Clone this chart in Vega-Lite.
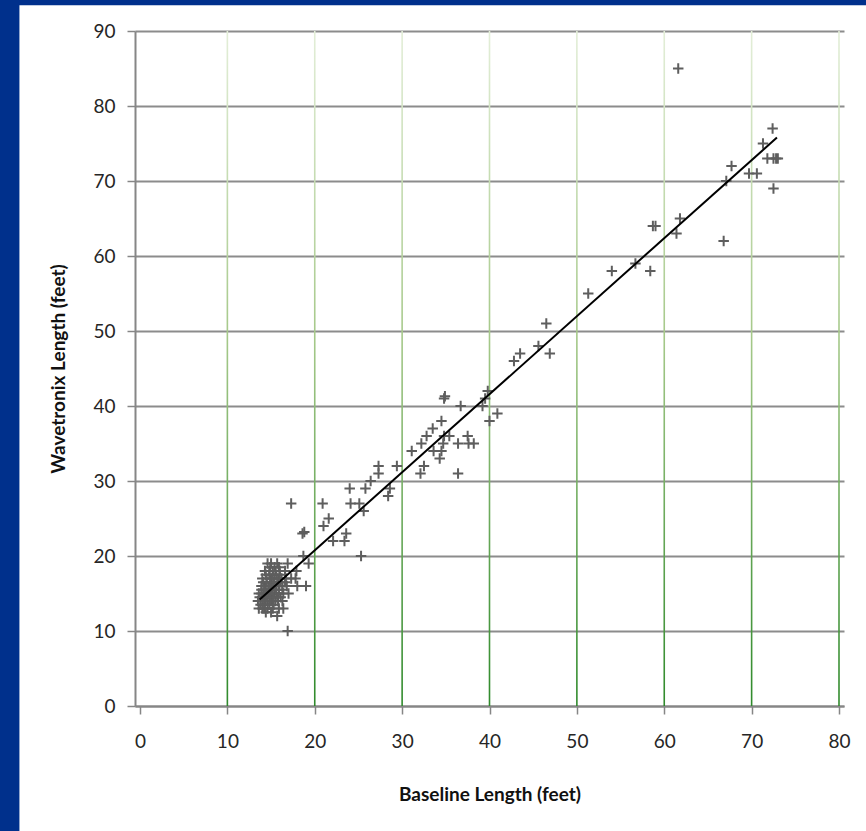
{
  "$schema": "https://vega.github.io/schema/vega-lite/v6.json",
  "width": 709,
  "height": 675,
  "autosize": {"type": "none"},
  "padding": {"left": 135, "top": 31, "right": 22, "bottom": 125},
  "background": "white",
  "config": {
    "view": {"stroke": null},
    "axis": {
      "labelFont": "Lato",
      "labelFontSize": 19,
      "labelColor": "#262626",
      "titleFont": "Lato",
      "titleFontSize": 19,
      "titleFontWeight": "bold",
      "titleColor": "#111111",
      "domainColor": "#868686",
      "domainWidth": 2,
      "tickColor": "#868686",
      "tickWidth": 1.5,
      "tickSize": 8
    }
  },
  "datasets": {
    "points": [
      {"baseline": 61.6, "wavetronix": 85},
      {"baseline": 72.4, "wavetronix": 77},
      {"baseline": 71.3, "wavetronix": 75},
      {"baseline": 71.8, "wavetronix": 73},
      {"baseline": 72.5, "wavetronix": 73},
      {"baseline": 72.8, "wavetronix": 73},
      {"baseline": 73.0, "wavetronix": 73},
      {"baseline": 67.7, "wavetronix": 72},
      {"baseline": 67.1, "wavetronix": 70},
      {"baseline": 69.7, "wavetronix": 71},
      {"baseline": 70.6, "wavetronix": 71},
      {"baseline": 72.5, "wavetronix": 69},
      {"baseline": 58.7, "wavetronix": 64},
      {"baseline": 59.0, "wavetronix": 64},
      {"baseline": 61.8, "wavetronix": 65},
      {"baseline": 61.4, "wavetronix": 63},
      {"baseline": 66.8, "wavetronix": 62},
      {"baseline": 56.7, "wavetronix": 59},
      {"baseline": 54.0, "wavetronix": 58},
      {"baseline": 58.4, "wavetronix": 58},
      {"baseline": 51.3, "wavetronix": 55},
      {"baseline": 46.5, "wavetronix": 51},
      {"baseline": 45.6, "wavetronix": 48},
      {"baseline": 46.9, "wavetronix": 47},
      {"baseline": 43.5, "wavetronix": 47},
      {"baseline": 42.8, "wavetronix": 46},
      {"baseline": 39.8, "wavetronix": 42},
      {"baseline": 39.5, "wavetronix": 41},
      {"baseline": 39.2, "wavetronix": 40},
      {"baseline": 40.9, "wavetronix": 39},
      {"baseline": 40.0, "wavetronix": 38},
      {"baseline": 34.8, "wavetronix": 41},
      {"baseline": 34.9, "wavetronix": 41.3},
      {"baseline": 36.7, "wavetronix": 40},
      {"baseline": 34.5, "wavetronix": 38},
      {"baseline": 33.5, "wavetronix": 37},
      {"baseline": 32.8, "wavetronix": 36},
      {"baseline": 32.2, "wavetronix": 35},
      {"baseline": 31.1, "wavetronix": 34},
      {"baseline": 34.8, "wavetronix": 36},
      {"baseline": 35.4, "wavetronix": 36},
      {"baseline": 34.7, "wavetronix": 35},
      {"baseline": 36.4, "wavetronix": 35},
      {"baseline": 37.5, "wavetronix": 36},
      {"baseline": 37.6, "wavetronix": 35},
      {"baseline": 38.2, "wavetronix": 35},
      {"baseline": 33.6, "wavetronix": 34},
      {"baseline": 34.5, "wavetronix": 34},
      {"baseline": 34.3, "wavetronix": 33},
      {"baseline": 32.5, "wavetronix": 32},
      {"baseline": 32.1, "wavetronix": 31},
      {"baseline": 36.4, "wavetronix": 31},
      {"baseline": 27.3, "wavetronix": 32},
      {"baseline": 27.3, "wavetronix": 31},
      {"baseline": 29.4, "wavetronix": 32},
      {"baseline": 26.4, "wavetronix": 30},
      {"baseline": 24.0, "wavetronix": 29},
      {"baseline": 25.8, "wavetronix": 29},
      {"baseline": 28.6, "wavetronix": 29},
      {"baseline": 28.4, "wavetronix": 28},
      {"baseline": 24.1, "wavetronix": 27},
      {"baseline": 25.1, "wavetronix": 27},
      {"baseline": 25.6, "wavetronix": 26},
      {"baseline": 20.9, "wavetronix": 27},
      {"baseline": 21.6, "wavetronix": 25},
      {"baseline": 21.0, "wavetronix": 24},
      {"baseline": 23.6, "wavetronix": 23},
      {"baseline": 23.4, "wavetronix": 22},
      {"baseline": 22.1, "wavetronix": 22},
      {"baseline": 25.3, "wavetronix": 20},
      {"baseline": 18.6, "wavetronix": 23},
      {"baseline": 18.8, "wavetronix": 23.2},
      {"baseline": 17.3, "wavetronix": 27},
      {"baseline": 18.7, "wavetronix": 20},
      {"baseline": 19.3, "wavetronix": 19},
      {"baseline": 18.0, "wavetronix": 16},
      {"baseline": 19.0, "wavetronix": 16},
      {"baseline": 17.9, "wavetronix": 18},
      {"baseline": 17.8, "wavetronix": 17},
      {"baseline": 15.7, "wavetronix": 12},
      {"baseline": 16.9, "wavetronix": 10},
      {"baseline": 14.6, "wavetronix": 19},
      {"baseline": 15.0, "wavetronix": 19},
      {"baseline": 15.7, "wavetronix": 19},
      {"baseline": 16.9, "wavetronix": 19},
      {"baseline": 14.3, "wavetronix": 18},
      {"baseline": 14.8, "wavetronix": 18},
      {"baseline": 15.2, "wavetronix": 18},
      {"baseline": 15.5, "wavetronix": 18},
      {"baseline": 16.0, "wavetronix": 18},
      {"baseline": 16.6, "wavetronix": 18},
      {"baseline": 14.0, "wavetronix": 17},
      {"baseline": 14.5, "wavetronix": 17},
      {"baseline": 14.9, "wavetronix": 17},
      {"baseline": 15.1, "wavetronix": 17},
      {"baseline": 15.4, "wavetronix": 17},
      {"baseline": 15.8, "wavetronix": 17},
      {"baseline": 16.2, "wavetronix": 17},
      {"baseline": 16.7, "wavetronix": 17},
      {"baseline": 17.3, "wavetronix": 17},
      {"baseline": 13.9, "wavetronix": 16},
      {"baseline": 14.2, "wavetronix": 16},
      {"baseline": 14.4, "wavetronix": 16},
      {"baseline": 14.7, "wavetronix": 16},
      {"baseline": 14.9, "wavetronix": 16},
      {"baseline": 15.1, "wavetronix": 16},
      {"baseline": 15.3, "wavetronix": 16},
      {"baseline": 15.6, "wavetronix": 16},
      {"baseline": 15.9, "wavetronix": 16},
      {"baseline": 16.3, "wavetronix": 16},
      {"baseline": 16.8, "wavetronix": 16},
      {"baseline": 13.6, "wavetronix": 15},
      {"baseline": 13.9, "wavetronix": 15},
      {"baseline": 14.1, "wavetronix": 15},
      {"baseline": 14.3, "wavetronix": 15},
      {"baseline": 14.5, "wavetronix": 15},
      {"baseline": 14.7, "wavetronix": 15},
      {"baseline": 14.9, "wavetronix": 15},
      {"baseline": 15.0, "wavetronix": 15},
      {"baseline": 15.2, "wavetronix": 15},
      {"baseline": 15.4, "wavetronix": 15},
      {"baseline": 15.6, "wavetronix": 15},
      {"baseline": 15.9, "wavetronix": 15},
      {"baseline": 16.4, "wavetronix": 15},
      {"baseline": 17.0, "wavetronix": 15},
      {"baseline": 13.5, "wavetronix": 14},
      {"baseline": 13.8, "wavetronix": 14},
      {"baseline": 14.0, "wavetronix": 14},
      {"baseline": 14.2, "wavetronix": 14},
      {"baseline": 14.4, "wavetronix": 14},
      {"baseline": 14.6, "wavetronix": 14},
      {"baseline": 14.8, "wavetronix": 14},
      {"baseline": 15.0, "wavetronix": 14},
      {"baseline": 15.2, "wavetronix": 14},
      {"baseline": 15.5, "wavetronix": 14},
      {"baseline": 15.8, "wavetronix": 14},
      {"baseline": 16.3, "wavetronix": 14},
      {"baseline": 13.6, "wavetronix": 13},
      {"baseline": 14.0, "wavetronix": 13},
      {"baseline": 14.2, "wavetronix": 13},
      {"baseline": 14.6, "wavetronix": 13},
      {"baseline": 15.2, "wavetronix": 13},
      {"baseline": 15.9, "wavetronix": 13},
      {"baseline": 16.4, "wavetronix": 13},
      {"baseline": 13.8, "wavetronix": 13.5},
      {"baseline": 14.3, "wavetronix": 13.5},
      {"baseline": 14.8, "wavetronix": 13.5},
      {"baseline": 15.3, "wavetronix": 13.5},
      {"baseline": 13.7, "wavetronix": 14.5},
      {"baseline": 14.1, "wavetronix": 14.5},
      {"baseline": 14.5, "wavetronix": 14.5},
      {"baseline": 14.9, "wavetronix": 14.5},
      {"baseline": 15.3, "wavetronix": 14.5},
      {"baseline": 15.7, "wavetronix": 14.5},
      {"baseline": 16.1, "wavetronix": 14.5},
      {"baseline": 13.9, "wavetronix": 15.5},
      {"baseline": 14.3, "wavetronix": 15.5},
      {"baseline": 14.7, "wavetronix": 15.5},
      {"baseline": 15.1, "wavetronix": 15.5},
      {"baseline": 15.5, "wavetronix": 15.5},
      {"baseline": 15.9, "wavetronix": 15.5},
      {"baseline": 16.3, "wavetronix": 15.5},
      {"baseline": 14.1, "wavetronix": 16.5},
      {"baseline": 14.5, "wavetronix": 16.5},
      {"baseline": 14.9, "wavetronix": 16.5},
      {"baseline": 15.3, "wavetronix": 16.5},
      {"baseline": 15.7, "wavetronix": 16.5},
      {"baseline": 16.1, "wavetronix": 16.5},
      {"baseline": 16.6, "wavetronix": 16.5},
      {"baseline": 14.4, "wavetronix": 17.5},
      {"baseline": 14.8, "wavetronix": 17.5},
      {"baseline": 15.2, "wavetronix": 17.5},
      {"baseline": 15.6, "wavetronix": 17.5},
      {"baseline": 16.0, "wavetronix": 17.5},
      {"baseline": 14.9, "wavetronix": 18.5},
      {"baseline": 15.4, "wavetronix": 18.5},
      {"baseline": 15.9, "wavetronix": 18.5},
      {"baseline": 14.4, "wavetronix": 12.5},
      {"baseline": 15.0, "wavetronix": 12.5}
    ],
    "trend": [
      {"baseline": 13.7, "wavetronix": 14.2},
      {"baseline": 72.9, "wavetronix": 75.8}
    ],
    "vgrid": [
      {"g": 10}, {"g": 20}, {"g": 30}, {"g": 40},
      {"g": 50}, {"g": 60}, {"g": 70}, {"g": 80}
    ]
  },
  "layer": [
    {
      "data": {"values": [{}]},
      "mark": {"type": "rect", "color": "#00308C"},
      "encoding": {
        "x": {"datum": -20, "type": "quantitative", "scale": {"domain": [0, 80], "nice": false, "zero": false},
          "axis": {"values": [0, 10, 20, 30, 40, 50, 60, 70, 80], "grid": false, "title": "Baseline Length (feet)", "labelPadding": 18, "titlePadding": 34, "labelFlush": false}},
        "x2": {"datum": -13.8},
        "y": {"datum": -30, "type": "quantitative", "scale": {"domain": [0, 90], "nice": false, "zero": false},
          "axis": {"values": [0, 10, 20, 30, 40, 50, 60, 70, 80, 90], "grid": true, "gridColor": "#8c8c8c", "gridWidth": 2, "title": "Wavetronix Length (feet)", "labelPadding": 12, "titlePadding": 24, "labelFlush": false}},
        "y2": {"datum": 110}
      }
    },
    {
      "data": {"values": [{}]},
      "mark": {"type": "rect", "color": "#00308C"},
      "encoding": {
        "x": {"datum": -20, "type": "quantitative", "scale": {"domain": [0, 80], "nice": false, "zero": false}},
        "x2": {"datum": 100},
        "y": {"datum": 93.45, "type": "quantitative", "scale": {"domain": [0, 90], "nice": false, "zero": false}},
        "y2": {"datum": 110}
      }
    },
    {
      "data": {"name": "vgrid"},
      "transform": [{"calculate": "0", "as": "y0"}, {"calculate": "90", "as": "y1"}],
      "mark": {
        "type": "bar",
        "width": 1.6,
        "color": {
          "gradient": "linear",
          "x1": 0, "y1": 0, "x2": 0, "y2": 1,
          "stops": [
            {"offset": 0, "color": "#e3eed8"},
            {"offset": 0.45, "color": "#a6c98a"},
            {"offset": 1, "color": "#2f8a2b"}
          ]
        }
      },
      "encoding": {
        "x": {"field": "g", "type": "quantitative", "scale": {"domain": [0, 80], "nice": false, "zero": false}},
        "y": {"field": "y0", "type": "quantitative", "scale": {"domain": [0, 90], "nice": false, "zero": false}},
        "y2": {"field": "y1"}
      }
    },
    {
      "data": {"name": "points"},
      "mark": {
        "type": "point",
        "shape": "M-1,0L1,0M0,-1L0,1",
        "filled": false,
        "stroke": "#5e5e5e",
        "strokeWidth": 2,
        "size": 110,
        "opacity": 1
      },
      "encoding": {
        "x": {"field": "baseline", "type": "quantitative", "scale": {"domain": [0, 80], "nice": false, "zero": false}},
        "y": {"field": "wavetronix", "type": "quantitative", "scale": {"domain": [0, 90], "nice": false, "zero": false}}
      }
    },
    {
      "data": {"name": "trend"},
      "mark": {"type": "line", "color": "black", "strokeWidth": 2},
      "encoding": {
        "x": {"field": "baseline", "type": "quantitative", "scale": {"domain": [0, 80], "nice": false, "zero": false}},
        "y": {"field": "wavetronix", "type": "quantitative", "scale": {"domain": [0, 90], "nice": false, "zero": false}}
      }
    }
  ]
}
